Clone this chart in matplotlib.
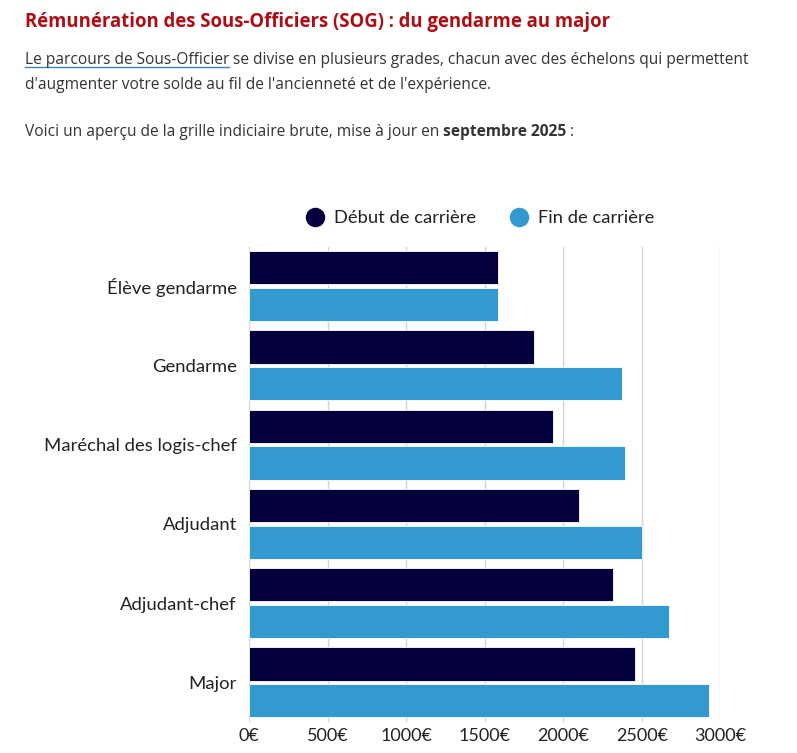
import matplotlib.pyplot as plt
import numpy as np
from matplotlib.lines import Line2D

grades = ['Élève gendarme', 'Gendarme', 'Maréchal des logis-chef',
          'Adjudant', 'Adjudant-chef', 'Major']
debut = [1583, 1815, 1934, 2101, 2319, 2459]
fin = [1583, 2371, 2392, 2500, 2675, 2929]
xticks = [0, 500, 1000, 1500, 2000, 2500, 3000]
xticklabels = ['0€', '500€', '1000€', '1500€', '2000€', '2500€', '3000€']

c_debut = '#03003b'
c_fin = '#3399d1'
txt = '#333333'

fig = plt.figure(figsize=(7.97, 7.53), dpi=100)
W, H = 797, 753

# --- header text (page text above the chart) ---
fig.text(25 / W, 1 - 22 / H, 'Rémunération des Sous-Officiers (SOG) : du gendarme au major',
         family='Open Sans', weight='bold', fontsize=13.35, color='#b00c14', va='center')

fig.canvas.draw()
r = fig.canvas.get_renderer()

def put(x, y, s, **kw):
    t = fig.text(x / W, 1 - y / H, s, family='Open Sans', fontsize=11.2, color=txt,
                 va='baseline', **kw)
    bb = t.get_window_extent(r)
    return t, bb.x1

t, x1 = put(25, 64, 'Le parcours de Sous-Officier')
fig.add_artist(Line2D([25 / W, x1 / W], [1 - 67 / H, 1 - 67 / H], color='#3b86ad', lw=1))
put(x1 + 3.5, 64, 'se divise en plusieurs grades, chacun avec des échelons qui permettent')
put(25, 89, "d'augmenter votre solde au fil de l'ancienneté et de l'expérience.")
t, x1 = put(25, 136, 'Voici un aperçu de la grille indiciaire brute, mise à jour en')
t, x2 = put(x1 + 3.5, 136, 'septembre 2025', weight='bold')
put(x2 + 3.5, 136, ':')

# --- chart ---
ax = fig.add_axes([249.3 / W, 1 - 722 / H, (720.3 - 249.3) / W, (722 - 246.5) / H])
y = np.arange(len(grades))
h = 0.42
off = 0.2315
ax.barh(y - off, debut, height=h, color=c_debut, edgecolor='white', linewidth=0.6, zorder=3)
ax.barh(y + off, fin, height=h, color=c_fin, edgecolor='white', linewidth=0.6, zorder=3)

ax.set_ylim(len(grades) - 0.5, -0.5)
ax.set_xlim(0, 3000)
ax.set_yticks(y)
ax.set_yticklabels(grades, family='Lato', fontsize=13.3, color='#222222')
ax.set_xticks(xticks)
ax.set_xticklabels(xticklabels, family='Lato', fontsize=13, color='#222222')
ax.tick_params(length=0)
ax.tick_params(axis='y', pad=9)
ax.tick_params(axis='x', pad=4)
ax.grid(axis='x', color='#d4d4d4', lw=1, zorder=0)
for s in ax.spines.values():
    s.set_visible(False)

handles = [Line2D([], [], marker='o', ls='', ms=13, color=c_debut),
           Line2D([], [], marker='o', ls='', ms=13, color=c_fin)]
fig.legend(handles, ['Début de carrière', 'Fin de carrière'], loc='center',
           bbox_to_anchor=(475.5 / W, 1 - 218 / H), ncol=2, frameon=False,
           prop={'family': 'Lato', 'size': 13.2}, handletextpad=0.05,
           columnspacing=1.33, labelcolor='#222222')

fig.savefig('out.png', dpi=100)
